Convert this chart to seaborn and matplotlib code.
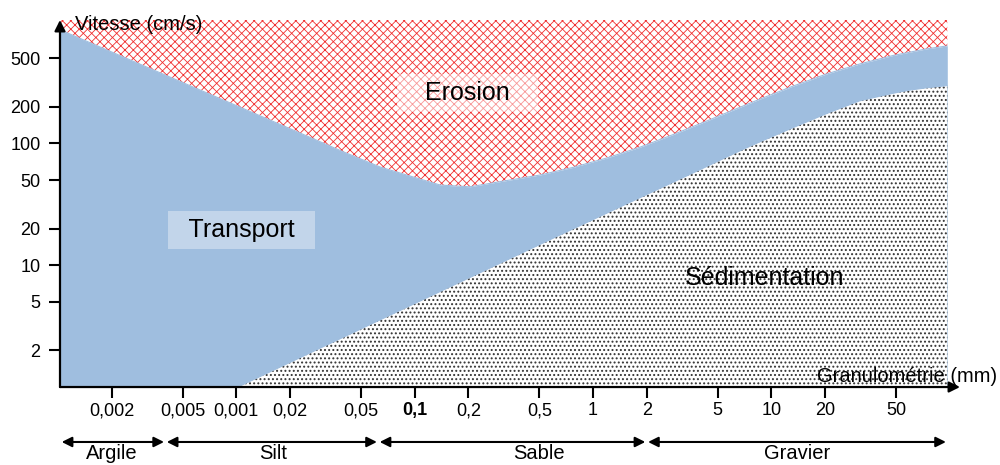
import matplotlib
matplotlib.use('Agg')
import matplotlib.pyplot as plt
import matplotlib.transforms as mtransforms
import seaborn as sns

# Diagramme de Hjulström : vitesse du courant (cm/s) selon la granulométrie (mm)
ero_x = [0.001, 0.02, 0.04, 0.064, 0.094, 0.139, 0.204, 0.301, 0.505, 0.772, 1.2, 1.835,
         2.81, 4.36, 6.68, 8.64, 13.3, 20.5, 31.4, 48.3, 74.4, 97]
ero_v = [870, 132, 85, 64, 54, 45.5, 44, 48.5, 55, 63.5, 76, 93,
         118, 153, 198, 231, 296, 372, 449, 527, 597, 631]

sed_x = [0.0102, 0.0638, 0.653, 4.0, 6.68, 8.64, 13.3, 20.5, 31.4, 48.3, 60, 74.4, 97]
sed_v = [1.0, 3.55, 17.7, 61, 87, 103, 135, 176, 224, 258, 274, 286, 298]

x_ticks = [0.002, 0.005, 0.01, 0.02, 0.05, 0.1, 0.2, 0.5, 1, 2, 5, 10, 20, 50]
x_labels = ['0,002', '0,005', '0,001', '0,02', '0,05', '0,1', '0,2', '0,5',
            '1', '2', '5', '10', '20', '50']
y_ticks = [2, 5, 10, 20, 50, 100, 200, 500]
y_labels = ['2', '5', '10', '20', '50', '100', '200', '500']

classes = ['Argile', 'Silt', 'Sable', 'Gravier']
class_bounds = [0.00103, 0.004, 0.0625, 2, 97]
class_label_x = [0.002, 0.016, 0.5, 14]

sns.set_theme(style='white')
plt.rcParams['font.family'] = ['Liberation Sans', 'DejaVu Sans']
plt.rcParams['text.color'] = 'black'
plt.rcParams['xtick.color'] = 'black'
plt.rcParams['ytick.color'] = 'black'

blue = '#9fbedf'
fig = plt.figure(figsize=(10, 4.65), dpi=100)
ax = fig.add_axes([0.06, 0.1677, 0.90, 0.7893])
ax.set_xscale('log')
ax.set_yscale('log')
xmin, xmax = 10 ** -2.989, 10 ** 2.058
ymin, ymax = 1, 1030
ax.set_xlim(xmin, xmax)
ax.set_ylim(ymin, ymax)

# zones
ax.fill_between(ero_x, ymin, ero_v, color=blue, lw=0, zorder=1)
with plt.rc_context({'hatch.linewidth': 0.6}):
    ax.fill_between(ero_x, ero_v, ymax, facecolor='white', edgecolor='#f03030',
                    hatch='xxxx', lw=0, zorder=1)
with plt.rc_context({'hatch.linewidth': 0.9}):
    ax.fill_between(sed_x, ymin, sed_v, facecolor='white', edgecolor='#333333',
                    hatch='....', lw=0, zorder=2)
sns.lineplot(x=ero_x, y=ero_v, ax=ax, color=blue, lw=0.8, zorder=3)
sns.lineplot(x=sed_x, y=sed_v, ax=ax, color=blue, lw=0.8, zorder=3)

# labels des zones
ax.text(0.197, 259, '   Erosion   ', fontsize=18, ha='center', va='center', zorder=5,
        bbox=dict(facecolor='white', alpha=0.5, edgecolor='none', pad=5))
ax.text(0.0107, 19.5, '  Transport  ', fontsize=18, ha='center', va='center', zorder=5,
        bbox=dict(facecolor='#c2d5ea', edgecolor='none', pad=5))
ax.text(9.2, 7.85, 'Sédimentation', fontsize=18, ha='center', va='center', zorder=5)

# axes
ax.set_xticks(x_ticks)
ax.set_xticklabels(x_labels)
ax.set_yticks(y_ticks)
ax.set_yticklabels(y_labels)
ax.minorticks_off()
ax.tick_params(axis='x', direction='out', length=8, width=1.5, pad=3, labelsize=13,
               bottom=True, color='black')
ax.tick_params(axis='y', direction='out', length=8, width=1.5, pad=6, labelsize=13,
               left=True, color='black')
ax.get_xticklabels()[5].set_fontweight('bold')
for s in ax.spines.values():
    s.set_visible(False)
ax.grid(False)
ax.set_xlabel('')
ax.set_ylabel('')

arrow = dict(arrowstyle='-|>', color='black', lw=1.6, shrinkA=0, shrinkB=0, mutation_scale=16)
ax.annotate('', xy=(0, 1), xytext=(0, 0), xycoords='axes fraction', arrowprops=arrow,
            annotation_clip=False, zorder=6)
ax.annotate('', xy=(1, 0), xytext=(0, 0), xycoords='axes fraction', arrowprops=arrow,
            annotation_clip=False, zorder=6)

fig.text(0.075, 0.9355, 'Vitesse (cm/s)', fontsize=14.5, ha='left', va='baseline')
fig.text(0.997, 0.1785, 'Granulométrie (mm)', fontsize=14.5, ha='right', va='baseline')

# classes granulométriques
dbl = dict(arrowstyle='<|-|>', color='black', lw=1.5, shrinkA=1, shrinkB=1, mutation_scale=15)
blend = mtransforms.blended_transform_factory(ax.transData, fig.transFigure)
for i, name in enumerate(classes):
    ax.annotate('', xy=(class_bounds[i + 1], 0.0495), xytext=(class_bounds[i], 0.0495),
                xycoords=('data', 'figure fraction'), arrowprops=dbl, annotation_clip=False)
    ax.text(class_label_x[i], 0.0452, name, fontsize=14.5, ha='center', va='top',
            transform=blend)

fig.savefig('out.png', dpi=100)
